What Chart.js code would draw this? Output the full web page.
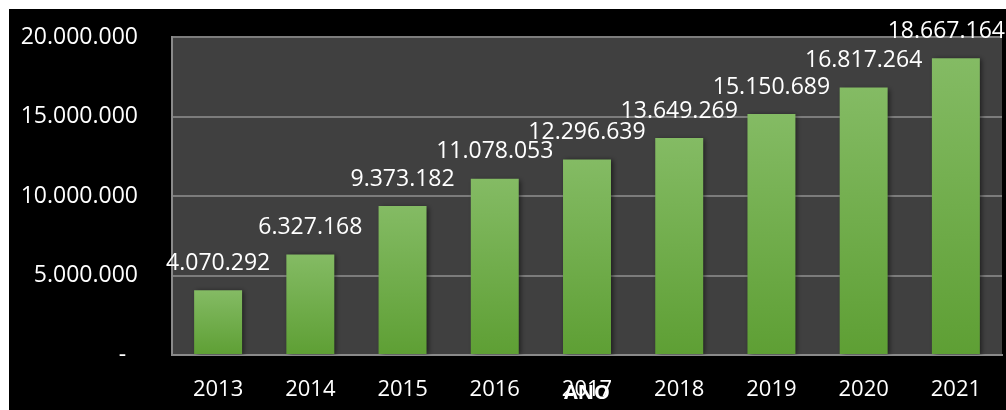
<!DOCTYPE html>
<html lang="pt-BR">
<head>
<meta charset="utf-8">
<title>ANO</title>
<script src="https://cdn.jsdelivr.net/npm/chart.js@4/dist/chart.umd.min.js"></script>
<style>
  html, body { margin: 0; padding: 0; background: #ffffff; }
  .wrap { position: absolute; left: 9px; top: 9px; width: 997px; height: 401px; background: #000000; }
  canvas { display: block; }
</style>
</head>
<body>
<div class="wrap"><canvas id="chart" width="997" height="401"></canvas></div>
<script>
"use strict";

const years = ["2013", "2014", "2015", "2016", "2017", "2018", "2019", "2020", "2021"];
const totals = [4070292, 6327168, 9373182, 11078053, 12296639, 13649269, 15150689, 16817264, 18667164];
const yTicks = [0, 5000000, 10000000, 15000000, 20000000];

const FONT = "'Open Sans', 'Noto Sans', sans-serif";

// 12345678 -> "12.345.678"
function fmt(n) {
  return String(Math.round(n)).replace(/\B(?=(\d{3})+(?!\d))/g, ".");
}

// dark plot background behind the grid
const plotBg = {
  id: "plotBg",
  beforeDraw(chart) {
    const { ctx, chartArea: a } = chart;
    ctx.save();
    ctx.fillStyle = "#404040";
    ctx.fillRect(a.left, a.top, a.right - a.left, a.bottom - a.top);
    ctx.restore();
  },
};

// soft drop shadow on the bars
const barShadow = {
  id: "barShadow",
  beforeDatasetsDraw(chart) {
    const ctx = chart.ctx;
    ctx.save();
    ctx.shadowColor = "rgba(0,0,0,0.55)";
    ctx.shadowBlur = 5;
    ctx.shadowOffsetX = 2;
    ctx.shadowOffsetY = 1;
  },
  afterDatasetsDraw(chart) {
    chart.ctx.restore();
  },
};

// value labels above each bar, kept inside the canvas
const valueLabels = {
  id: "valueLabels",
  afterDatasetsDraw(chart) {
    const { ctx, width } = chart;
    const meta = chart.getDatasetMeta(0);
    const values = chart.data.datasets[0].data;
    ctx.save();
    ctx.font = "23px " + FONT;
    ctx.fillStyle = "#ffffff";
    ctx.textAlign = "center";
    ctx.textBaseline = "middle";
    meta.data.forEach((bar, i) => {
      const text = fmt(values[i]);
      const w = ctx.measureText(text).width;
      let x = bar.x;
      if (x + w / 2 > width - 1) x = width - 1 - w / 2;
      ctx.fillText(text, x, bar.y - 27);
    });
    ctx.restore();
  },
};

function barGradient(context) {
  const chart = context.chart;
  const y = chart.scales && chart.scales.y;
  if (!y || !chart.chartArea) return "#6fae4a";
  const top = y.getPixelForValue(context.raw);
  const bottom = y.getPixelForValue(0);
  if (!isFinite(top) || !isFinite(bottom) || top === bottom) return "#6fae4a";
  const g = chart.ctx.createLinearGradient(0, top, 0, bottom);
  g.addColorStop(0, "#84bb64");
  g.addColorStop(1, "#5e9f34");
  return g;
}

const ctx = document.getElementById("chart").getContext("2d");
new Chart(ctx, {
  type: "bar",
  data: {
    labels: years,
    datasets: [
      {
        data: totals,
        backgroundColor: barGradient,
        borderWidth: 0,
        categoryPercentage: 1,
        barPercentage: 0.52,
      },
    ],
  },
  options: {
    responsive: false,
    animation: false,
    layout: { padding: { top: 28, right: 4, left: 0, bottom: 0 } },
    plugins: {
      legend: { display: false },
      tooltip: { enabled: false },
    },
    scales: {
      x: {
        grid: { display: false, drawTicks: false },
        border: { display: true, color: "#8a8a8a", width: 2 },
        ticks: {
          color: "#ffffff",
          font: { family: FONT, size: 22 },
          padding: 22,
          maxRotation: 0,
        },
        title: {
          display: true,
          text: "ANO",
          color: "#ffffff",
          font: { family: FONT, size: 20, weight: "bold" },
          padding: { top: 0, bottom: 5 },
        },
        afterFit(scale) {
          scale.height = 55;
          scale.paddingLeft = 0;
          scale.paddingRight = 0;
        },
      },
      y: {
        min: 0,
        max: 20000000,
        afterBuildTicks(scale) {
          scale.ticks = yTicks.map((v) => ({ value: v }));
        },
        grid: { color: "#7c7c7c", lineWidth: 2, drawTicks: false },
        border: { display: true, color: "#8a8a8a", width: 2 },
        ticks: {
          color: "#ffffff",
          font: { family: FONT, size: 23 },
          padding: 34,
          callback: (v) => (v === 0 ? "-\u00a0\u00a0" : fmt(v)),
        },
        afterFit(scale) {
          scale.width = 163;
          scale.paddingTop = 0;
          scale.paddingBottom = 0;
        },
      },
    },
  },
  plugins: [plotBg, barShadow, valueLabels],
});
</script>
</body>
</html>
